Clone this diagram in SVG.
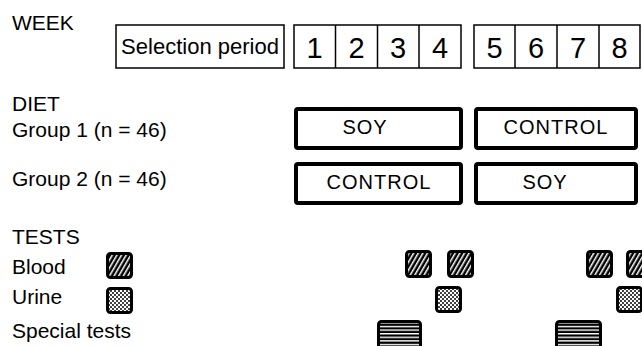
<svg xmlns="http://www.w3.org/2000/svg" width="642" height="346" viewBox="0 0 642 346">
<defs>
<pattern id="hatch" patternUnits="userSpaceOnUse" width="4" height="4" patternTransform="rotate(30)">
<rect width="4" height="4" fill="#000"/>
<rect x="0" y="0" width="1.5" height="4" fill="#fff"/>
</pattern>
<pattern id="dots" patternUnits="userSpaceOnUse" width="4" height="4">
<rect width="4" height="4" fill="#fff"/>
<circle cx="1" cy="1" r="1" fill="#000"/>
<circle cx="3" cy="3" r="1" fill="#000"/>
</pattern>
<pattern id="hlines" patternUnits="userSpaceOnUse" width="4" height="3.6">
<rect width="4" height="3.6" fill="#000"/>
<rect x="0" y="1.8" width="4" height="1.4" fill="#fff"/>
</pattern>
</defs>
<style>
text{font-family:"Liberation Sans",Arial,sans-serif;fill:#000}
.lbl{font-size:21px}
.sel{font-size:22px;text-anchor:middle}
.num{font-size:29px;text-anchor:middle}
.diet{font-size:20px;text-anchor:middle;letter-spacing:1px}
.wk{fill:#fff;stroke:#000;stroke-width:1.5}
.db{fill:#fff;stroke:#000;stroke-width:4}
.blood{fill:url(#hatch);stroke:#000;stroke-width:3}
.urine{fill:url(#dots);stroke:#000;stroke-width:3}
.spec{fill:url(#hlines);stroke:#000;stroke-width:3}
</style>
<rect width="642" height="346" fill="#fff"/>
<g id="labels">
<text class="lbl" x="12" y="30">WEEK</text>
<text class="lbl" x="12" y="111">DIET</text>
<text class="lbl" x="12" y="137">Group 1 (n = 46)</text>
<text class="lbl" x="12" y="186">Group 2 (n = 46)</text>
<text class="lbl" x="12" y="244">TESTS</text>
<text class="lbl" x="12" y="274">Blood</text>
<text class="lbl" x="12" y="304">Urine</text>
<text class="lbl" x="12" y="338">Special tests</text>
</g>
<g id="selection">
<rect class="wk" x="116" y="25" width="168" height="43"/>
<text class="sel" x="200" y="54">Selection period</text>
</g>
<g id="weeks1-4">
<rect class="wk" x="294" y="25" width="167" height="43"/>
<line x1="335.5" y1="25" x2="335.5" y2="68" stroke="#000" stroke-width="1.5"/>
<line x1="377.5" y1="25" x2="377.5" y2="68" stroke="#000" stroke-width="1.5"/>
<line x1="419" y1="25" x2="419" y2="68" stroke="#000" stroke-width="1.5"/>
<text class="num" x="314.5" y="58">1</text>
<text class="num" x="356.5" y="58">2</text>
<text class="num" x="398" y="58">3</text>
<text class="num" x="440" y="58">4</text>
</g>
<g id="weeks5-8">
<rect class="wk" x="474" y="25" width="166" height="43"/>
<line x1="515" y1="25" x2="515" y2="68" stroke="#000" stroke-width="1.5"/>
<line x1="557" y1="25" x2="557" y2="68" stroke="#000" stroke-width="1.5"/>
<line x1="599" y1="25" x2="599" y2="68" stroke="#000" stroke-width="1.5"/>
<text class="num" x="494.5" y="58">5</text>
<text class="num" x="536" y="58">6</text>
<text class="num" x="578" y="58">7</text>
<text class="num" x="619.5" y="58">8</text>
</g>
<g id="g1-soy">
<rect class="db" x="296" y="109" width="165" height="39" rx="2"/>
<text class="diet" x="365" y="134">SOY</text>
</g>
<g id="g1-control">
<rect class="db" x="476" y="109" width="160" height="39" rx="2"/>
<text class="diet" x="556" y="134">CONTROL</text>
</g>
<g id="g2-control">
<rect class="db" x="296" y="164" width="165" height="39" rx="2"/>
<text class="diet" x="379" y="189">CONTROL</text>
</g>
<g id="g2-soy">
<rect class="db" x="476" y="164" width="160" height="39" rx="2"/>
<text class="diet" x="545" y="189">SOY</text>
</g>
<g id="legend-blood"><rect class="blood" x="107.5" y="253.5" width="24" height="24" rx="3"/></g>
<g id="legend-urine"><rect class="urine" x="107.5" y="288.5" width="24" height="24" rx="3"/></g>
<g id="blood-tests">
<rect class="blood" x="406.5" y="251.5" width="24" height="25" rx="3"/>
<rect class="blood" x="448.5" y="251.5" width="24" height="25" rx="3"/>
<rect class="blood" x="587.5" y="251.5" width="24" height="25" rx="3"/>
<rect class="blood" x="627.5" y="251.5" width="24" height="25" rx="3"/>
</g>
<g id="urine-tests">
<rect class="urine" x="436.5" y="287.5" width="24" height="24" rx="3"/>
<rect class="urine" x="617.5" y="287.5" width="24" height="24" rx="3"/>
</g>
<g id="special-tests">
<rect class="spec" x="378.5" y="321.5" width="42" height="30" rx="3"/>
<rect class="spec" x="556.5" y="321.5" width="44" height="30" rx="3"/>
</g>
<g id="connectors"/>
</svg>
